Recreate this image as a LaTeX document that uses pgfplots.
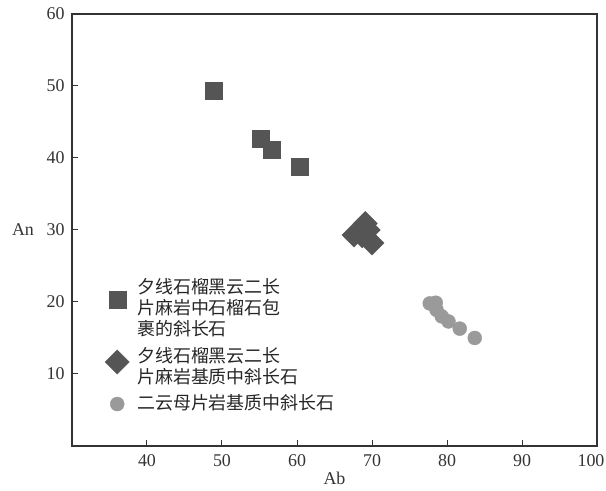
\documentclass[border=0pt]{standalone}
\usepackage{fontspec}
\setmainfont{Liberation Serif}
\newfontfamily\cjk{Noto Sans CJK SC}
\usepackage{pgfplots}
\pgfplotsset{compat=1.18}
\definecolor{sqc}{HTML}{555555}
\definecolor{cic}{HTML}{9A9A9A}
\definecolor{axc}{HTML}{333333}
\pgfplotsset{
  legimgA/.style={legend image code/.code={\draw[##1] plot coordinates {(0bp,8bp)};}},
  legimgB/.style={legend image code/.code={\draw[##1] plot coordinates {(0bp,4bp)};}},
  legimgC/.style={legend image code/.code={\draw[##1] plot coordinates {(0bp,-1bp)};}},
}
\begin{document}
\begin{tikzpicture}
\begin{axis}[
  scale only axis, width=525bp, height=432bp,
  xmin=30, xmax=100, ymin=0, ymax=60,
  xtick={40,50,...,100}, ytick={10,20,...,60},
  xticklabels={40,50,60,70,80,90,{\hspace*{-12bp}100}},
  tick pos=left, tick align=inside,
  major tick length=6bp,
  axis line style={line width=1.3bp, color=axc},
  tick style={line width=1bp, color=axc},
  /pgf/number format/assume math mode=true,
  ticklabel style={font=\fontsize{18}{21}\selectfont, color=black!80},
  yticklabel style={xshift=-4bp},
  xticklabel style={yshift=-5bp},
  xlabel={Ab}, ylabel={An},
  label style={font=\fontsize{18}{21}\selectfont, color=black!80},
  xlabel style={yshift=1bp},
  ylabel style={at={(axis description cs:0,0.5)}, rotate=-90, anchor=center, xshift=-49bp},
  legend style={at={(axis cs:34.0,23.8)}, anchor=north west, draw=none, fill=none,
    font=\cjk\fontsize{18}{21}\selectfont, text=black!85,
    cells={anchor=west, align=left}, row sep=6bp,
    nodes={inner xsep=8bp}},
]
\addplot[only marks, mark=square*, mark size=8.5bp, color=sqc, legimgA] coordinates {
  (48.9,49.4) (55.1,42.7) (56.6,41.1) (60.4,38.8)
};
\addlegendentry{夕线石榴黑云二长\\片麻岩中石榴石包\\裹的斜长石}
\addplot[only marks, mark=square*, mark size=8.5bp, mark options={rotate=45}, color=sqc, legimgB] coordinates {
  (67.6,29.3) (68.7,29.2) (69.1,30.9) (69.5,30.0) (70.0,28.2)
};
\addlegendentry{夕线石榴黑云二长\\片麻岩基质中斜长石}
\addplot[only marks, mark=*, mark size=7bp, color=cic, legimgC] coordinates {
  (77.7,19.8) (78.5,19.9) (78.6,18.9) (79.3,18.0) (80.2,17.3) (81.7,16.3) (83.7,15.0)
};
\addlegendentry{二云母片岩基质中斜长石}
\end{axis}
\pgfresetboundingbox
\path ([shift={(-72bp,-45bp)}]current axis.south west) rectangle ([shift={(9bp,14bp)}]current axis.north east);
\end{tikzpicture}
\end{document}
